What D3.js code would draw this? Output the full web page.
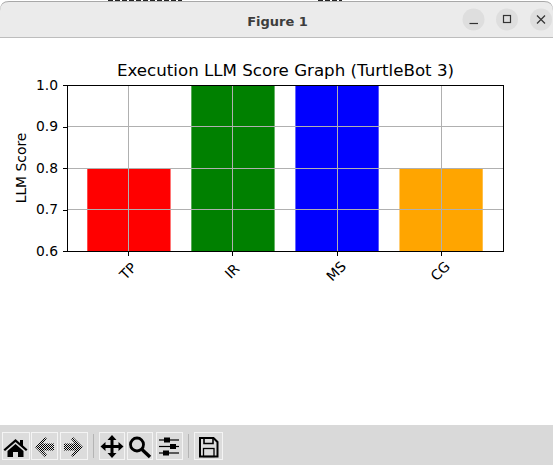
<!DOCTYPE html>
<html>
<head>
<meta charset="utf-8">
<style>
  html, body { margin: 0; padding: 0; background: #fff; overflow: hidden; }
  svg { display: block; }
  text { font-family: "DejaVu Sans", sans-serif; fill: #000; }
</style>
</head>
<body>
<svg></svg>
<script src="https://cdnjs.cloudflare.com/ajax/libs/d3/7.8.5/d3.min.js"></script>
<script>
const categories = ['TP', 'IR', 'MS', 'CG'];
const scores = [0.8, 1.0, 1.0, 0.8];
const barColors = ['red', 'green', 'blue', 'orange'];
const yTicks = [0.6, 0.7, 0.8, 0.9, 1.0];

const width = 553, height = 465;
const plot = { left: 67, right: 503, top: 85, bottom: 251 };

const svg = d3.select('svg').attr('width', width).attr('height', height);

const x = d3.scaleBand().domain(categories)
  .range([plot.left, plot.right])
  .paddingInner(0.2).paddingOuter(0.195);
const y = d3.scaleLinear().domain([0.6, 1.0]).range([plot.bottom, plot.top]);

drawWindow();
drawChart();
drawToolbar();

function drawChart() {
  svg.append('text').attr('x', 285.5).attr('y', 75.5)
    .attr('text-anchor', 'middle').style('font-size', '16.67px')
    .text('Execution LLM Score Graph (TurtleBot 3)');

  svg.selectAll('.bar').data(categories).enter().append('rect')
    .attr('class', 'bar')
    .attr('x', d => x(d))
    .attr('width', x.bandwidth())
    .attr('y', (d, i) => y(scores[i]))
    .attr('height', (d, i) => y(0.6) - y(scores[i]))
    .attr('fill', (d, i) => barColors[i]);

  // grid sits on top of the bars, like the original
  const grid = svg.append('g').attr('stroke', '#b0b0b0').attr('stroke-width', 1)
    .attr('shape-rendering', 'crispEdges');
  grid.selectAll('.gy').data(yTicks).enter().append('line')
    .attr('x1', plot.left).attr('x2', plot.right)
    .attr('y1', d => y(d)).attr('y2', d => y(d));
  grid.selectAll('.gx').data(categories).enter().append('line')
    .attr('y1', plot.top).attr('y2', plot.bottom)
    .attr('x1', d => x(d) + x.bandwidth() / 2).attr('x2', d => x(d) + x.bandwidth() / 2);

  const yAxis = svg.append('g').attr('transform', `translate(${plot.left},0)`)
    .call(d3.axisLeft(y).tickValues(yTicks).tickFormat(d3.format('.1f')).tickSize(4.5).tickPadding(4.5));
  const xAxis = svg.append('g').attr('transform', `translate(0,${plot.bottom})`)
    .call(d3.axisBottom(x).tickSize(4.5).tickPadding(4.5));
  [xAxis, yAxis].forEach(a => {
    a.select('.domain').remove();
    a.selectAll('line').attr('stroke', '#000').attr('stroke-width', 1).attr('shape-rendering', 'crispEdges');
    a.selectAll('text').style('font-size', '13.89px').style('font-family', '"DejaVu Sans", sans-serif').attr('fill', '#000');
  });
  xAxis.selectAll('text')
    .attr('text-anchor', 'middle').attr('dy', null).attr('y', 0)
    .attr('dominant-baseline', 'central')
    .attr('transform', 'translate(-1,20) rotate(-45)');

  svg.append('rect')
    .attr('x', plot.left).attr('y', plot.top)
    .attr('width', plot.right - plot.left).attr('height', plot.bottom - plot.top)
    .attr('fill', 'none').attr('stroke', '#000').attr('stroke-width', 1)
    .attr('shape-rendering', 'crispEdges');

  svg.append('text')
    .attr('transform', `translate(25.5,${(plot.top + plot.bottom) / 2}) rotate(-90)`)
    .attr('text-anchor', 'middle').style('font-size', '13.89px')
    .text('LLM Score');
}

function drawWindow() {
  // strip of the window behind this one
  svg.append('rect').attr('width', width).attr('height', 3).attr('fill', '#fff');
  svg.append('path').attr('d', 'M0,38V10Q0,1 9,1H544Q553,1 553,10V38Z').attr('fill', '#a8a8a8');
  svg.append('path').attr('d', 'M0,38V11Q0,2 9,2H544Q553,2 553,11V38Z').attr('fill', '#ebebeb');
  svg.append('path').attr('d', 'M108,0.500H182M318,0.500H342').attr('stroke', '#222')
    .attr('stroke-width', 1).attr('stroke-dasharray', '5 2');
  svg.append('rect').attr('y', 37).attr('width', width).attr('height', 1).attr('fill', '#bdbdbd');
  svg.append('text').attr('x', 277.5).attr('y', 25.5).attr('text-anchor', 'middle')
    .style('font-family', '"DejaVu Sans", sans-serif').style('font-weight', 700)
    .style('font-size', '13px').style('fill', '#3d3d3d').text('Figure 1');

  const winButtons = [473.5, 507, 541];
  svg.selectAll('.win').data(winButtons).enter().append('circle')
    .attr('cx', d => d).attr('cy', 19.5).attr('r', 11).attr('fill', '#dedede');
  const icons = svg.append('g').attr('fill', 'none').attr('stroke', '#333').attr('stroke-width', 1.2);
  icons.append('path').attr('d', 'M469.5,23.500H478');
  icons.append('rect').attr('x', 503.5).attr('y', 15.5).attr('width', 7).attr('height', 7);
  icons.append('path').attr('d', 'M537,15.500L545,23.500M545,15.500L537,23.500');
}

function drawToolbar() {
  svg.append('rect').attr('y', 425).attr('width', width).attr('height', 40).attr('fill', '#d9d9d9');

  const checker = svg.append('defs').append('pattern').attr('id', 'checker')
    .attr('width', 2).attr('height', 2).attr('patternUnits', 'userSpaceOnUse');
  checker.append('rect').attr('width', 2).attr('height', 2).attr('fill', '#e6e6e6');
  checker.append('rect').attr('width', 1).attr('height', 1).attr('fill', '#000');
  checker.append('rect').attr('x', 1).attr('y', 1).attr('width', 1).attr('height', 1).attr('fill', '#000');

  const buttons = [[2, 27], [31, 26], [60, 27], [99, 25], [127, 25], [156, 26], [194, 28]];
  svg.selectAll('.tb').data(buttons).enter().append('rect')
    .attr('x', d => d[0] + 0.5).attr('y', 432.5).attr('width', d => d[1]).attr('height', 27)
    .attr('fill', '#dcdcdc').attr('stroke', '#f4f4f4');
  [93.5, 188.5].forEach(sx => svg.append('line')
    .attr('x1', sx).attr('x2', sx).attr('y1', 434).attr('y2', 458).attr('stroke', '#b4b4b4'));

  const ink = '#000';
  // home
  svg.append('path').attr('fill', ink)
    .attr('d', 'M15.500,439L20,443V440H23V445.500L27.500,449.500L26,451L15.500,442L5,451L3.500,449.500ZM7.500,451L15.500,444L23.500,451V457H18V452H13V457H7.500Z');
  // back / forward arrows, dithered in the original
  svg.append('path').attr('fill', 'url(#checker)')
    .attr('d', 'M35,447L45,437L47,439L43,443.500H54V450.500H43L47,455L45,457Z');
  svg.append('path').attr('fill', 'url(#checker)')
    .attr('d', 'M83,447L73,437L71,439L75,443.500H64V450.500H75L71,455L73,457Z');
  // pan
  svg.append('path').attr('fill', ink)
    .attr('d', 'M112,435L116.500,440H113.500V445H118.500V442L123.500,446.500L118.500,451V448H113.500V453H116.500L112,458L107.500,453H110.500V448H105.500V451L100.500,446.500L105.500,442V445H110.500V440H107.500Z');
  // zoom
  svg.append('circle').attr('cx', 137).attr('cy', 444.5).attr('r', 6.5)
    .attr('fill', 'none').attr('stroke', ink).attr('stroke-width', 2.8);
  svg.append('line').attr('x1', 142).attr('y1', 449.5).attr('x2', 150).attr('y2', 457)
    .attr('stroke', ink).attr('stroke-width', 3.4);
  // sliders
  const sliders = svg.append('g').attr('stroke', ink);
  [[440, 167], [446.5, 173], [453, 166]].forEach(s => {
    sliders.append('line').attr('x1', 159).attr('x2', 179).attr('y1', s[0]).attr('y2', s[0]).attr('stroke-width', 1.2);
    sliders.append('rect').attr('x', s[1] - 2.5).attr('y', s[0] - 2).attr('width', 5).attr('height', 4).attr('fill', ink);
  });
  // save
  svg.append('path').attr('fill', 'none').attr('stroke', ink).attr('stroke-width', 2)
    .attr('d', 'M200,438H213.500L217.500,442V456.500H200Z');
  svg.append('path').attr('fill', 'none').attr('stroke', ink).attr('stroke-width', 1.6)
    .attr('d', 'M204,438V443.500H213V438');
  svg.append('rect').attr('x', 203.5).attr('y', 448.5).attr('width', 10.5).attr('height', 8)
    .attr('fill', 'none').attr('stroke', ink).attr('stroke-width', 1.3);
}
</script>
</body>
</html>
